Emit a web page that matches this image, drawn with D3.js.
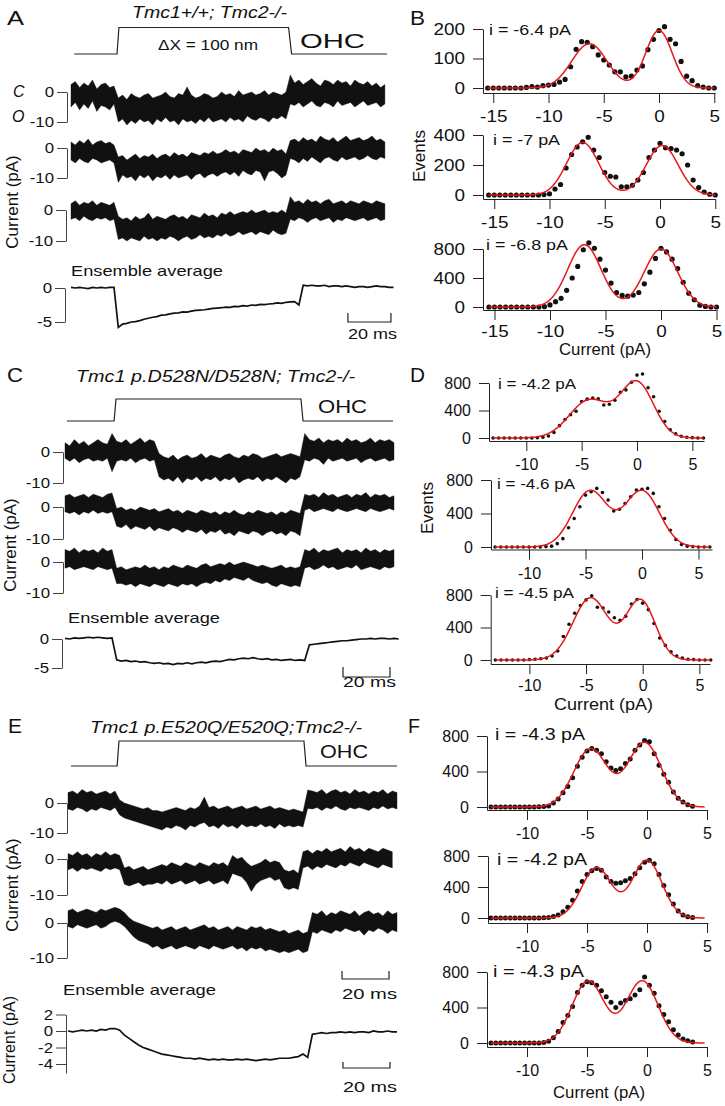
<!DOCTYPE html>
<html><head><meta charset="utf-8">
<script src="https://cdn.jsdelivr.net/npm/d3@7"></script>
<style>body{margin:0;background:#fff}svg{display:block}</style>
</head><body>
<script>
// ================= DATA =================
// stimulus (time in ms, level 0 = rest, 1 = displaced)
const stimT_A = [1.5, 21.4, 22.3, 101.2, 102.6, 147];
const stimT_C = [0.8, 20.9, 21.7, 100.4, 101.3, 139.6];
const stimT_E = [1.3, 20.9, 21.7, 100.4, 101.3, 140];
const stimLevel = [0, 0, 1, 1, 0, 0];
const sampleStep = 2; // ms between samples of every trace

// single-trace envelopes (pA), upper / lower excursions of the noisy trace
const A1_hi = [2.5,3.5,1.5,3,2,4,1,2.5,3,1.5,2, -2,-1,-2.5,-0.5,-1.5,-2,-1,-0.5,-2,-1.5,-1,0,-1.5,-2,-0.5,-1,1.7,-1,-2,-1.5,-0.5,-1,-2,-1.5,0,-1,-0.5,-1.5,0.5,-1,-0.5,0,-1,-0.5,0.5,-1,0,-0.5,-1,0, 5.7,3,4,2.5,3.5,4.5,3,2,4,3.5,2.5,4,3,3.5,2,4,3,2.5,3.5,2,3,1.5,2.5];
const A1_lo = [-5,-3.5,-6,-4,-5.5,-3,-6.5,-4.5,-5,-6,-4, -10,-9,-11,-9.5,-10.5,-9,-10,-9.5,-11,-9,-10,-8.5,-10,-9.5,-11,-9,-10,-9.5,-10.5,-9,-10,-8.5,-10,-9.5,-9,-10,-8.5,-9.5,-9,-10,-8,-9,-9.5,-8.5,-9,-10,-8.5,-9,-8,-9, -4,-4.5,-3.5,-5,-4,-3,-4.5,-5,-3.5,-4,-5,-3,-4.5,-4,-3.5,-5,-4,-3,-4.5,-4,-3.5,-5,-4];
const A2_hi = [2,1,2.5,1.5,3,1,2,2.5,1.5,2,1, -3,-2.5,-4,-3,-2,-3.5,-2.5,-3,-2,-3.5,-2.5,-2,-3,-1.5,-2.5,-2,-3,-1.5,-2,-2.5,-1.5,-2,-1,-2,-1.5,-0.5,-1.5,-1,-2,-0.5,-1,-1.5,0,-1,-0.5,-1.5,0,-1,-0.5,-2, 2.5,3,2,3.5,2.5,3,2,4,3,2.5,3.5,2,3,4,2.5,3,3.5,2.5,3,4,2.5,3,2];
const A2_lo = [-4,-5,-3.5,-4.5,-5,-3.5,-4,-5,-4.5,-4,-5, -11.5,-9,-10,-9.5,-11,-9,-10,-9,-11,-9.5,-10,-9,-10.5,-9,-10,-9.5,-9,-10.5,-9,-8.5,-10,-9,-8.5,-9.5,-8.5,-8,-9,-8,-9.5,-7.5,-8.5,-9,-7.5,-8,-11,-8,-7.5,-8.5,-10,-9, -3.5,-4,-5,-3.5,-4.5,-3,-4,-5,-3.5,-3,-4,-4.5,-3,-4,-3.5,-3,-4,-3.5,-2.5,-3.5,-4,-3,-3.5];
const A3_hi = [2,3,1.5,2.5,2,3,1.5,2.5,2,1.5,2.5, -2,-3,-2.5,-3.5,-2,-3,-2.5,-1,-3,-2,-2.5,-3,-2,-1.5,-2.5,-2,-3,-1.5,-2,-2.5,-1,-2,-1.5,-2.5,-1,-1.5,-0.5,-1.5,-1,-0.5,-1,0,-1,-0.5,0,-1,-0.5,-1,0,-1, 4.3,2.5,3,2,3.5,2.5,3,2,3,3.5,2,2.5,3,2,3,2.5,2,3,2.5,2,3,2.5,2];
const A3_lo = [-3,-2.5,-3.5,-2,-3,-3.5,-2.5,-3,-2.5,-3.5,-3, -9.5,-9,-10,-9,-9.5,-10,-8.5,-9.5,-9,-10,-9,-9.5,-8.5,-9,-10,-9,-8.5,-9.5,-9,-8,-9,-8.5,-9,-8,-8.5,-7.5,-8.5,-8,-7,-8,-7.5,-7,-8,-7,-7.5,-8,-6.5,-7.5,-8,-7.5, -3,-3.5,-2.5,-3,-4,-3,-2.5,-3.5,-3,-2.5,-4,-3,-3.5,-2.5,-3,-3.5,-3,-2.5,-3.5,-3,-2.5,-3.5,-3];
const A_avg = [0.1,0,0.1,0,-0.1,0.1,0,0.1,0,0.1,0.1, -5.8,-5.3, -5.2,-5.0,-4.95,-4.8,-4.6,-4.45,-4.3,-4.2,-4.0,-3.95,-3.8,-3.7,-3.65,-3.5,-3.55,-3.4,-3.3,-3.25,-3.2,-3.1,-3.0,-2.95,-2.9,-2.8,-2.85,-2.7,-2.75,-2.6,-2.65,-2.5,-2.55,-2.4,-2.45,-2.35,-2.3,-2.2,-2.25,-2.1,-2.05,-2.0, -2.5, 0.4,0.3,0.4,0.3,0.3,0.4,0.2,0.3,0.3,0.2,0.3,0.2,0.1,0.2,0.2,0.1,0.2,0.3,0.2,0.2,0.1,0.1];

const C1_hi = [3,2,4,2.5,3.5,2,3,4,3,2.5,6,3.5,3,4,2.5,3.5,4.5,3,4,3.5, -0.5,-1.5,-2,-1,-2.5,-1.5,-1,-2,-1.5,-0.5,-2,-1,-1.5,-2,-1,-0.5,-1.5,-2,-1,-1.5,-0.5,-1,-2,-1.5,-1,-0.5,-1.5,-1,-0.5,-1,-1.5, 6,4,3.5,4.5,3,4,3.5,4,3,4.5,3.5,4,3,3.5,4.5,3,4,3.5,4,3];
const C1_lo = [-2,-3,-2,-3.5,-2.5,-2,-3,-2.5,-3,-2,-6.4,-3,-2.5,-3,-2,-3.5,-2.5,-2,-3,-2.5, -8,-9,-8.5,-9.5,-8,-10,-8.5,-9,-8,-9.5,-8.5,-9,-8,-9.5,-8.5,-9,-8,-10,-9,-8.5,-9,-8,-9.5,-8.5,-9,-8,-9,-10,-8.5,-9,-8, -2.5,-3,-2,-2.5,-4,-2,-3,-2.5,-2,-3,-2.5,-2,-3.5,-2.5,-2,-3,-2.5,-2,-3,-2.5];
const C2_hi = [3.5,4,3,3.5,4,3,4,3.5,3,4,4.4, -0.5,0,-1,-0.5,-1,0,-0.5,-1,-0.5,-1.5,-1,-0.5,-1.5,-1,-2,-1,-1.5,-2,-1,-1.5,-2,-1.5,-2.5,-1.5,-2,-1,-2,-2.5,-1.5,-2,-1,-1.5,-2,-1.5,-2.5,-1.5,-2,-1,-1.5,-2, 4,3.5,4,3,4.5,3.5,4,3,3.5,4,3,4,3.5,4.5,3,4,3.5,4,3,3.5];
const C2_lo = [-1.5,-2,-1.5,-2.5,-1.5,-2,-1,-2,-1.5,-2,-1.5, -6,-6.5,-5.5,-7,-6,-6.5,-7,-6,-7.5,-6.5,-7,-7.5,-6.5,-7,-8,-7,-7.5,-8,-7,-8.5,-7.5,-8,-7,-8.5,-8,-9,-7.5,-8,-8.5,-7.5,-8,-9,-8,-7.5,-8.5,-8,-9,-7.5,-8,-9, -1,-0.5,-1.5,-1,-0.5,-1,-1.5,-0.5,-1,-1.5,-1,-0.5,-1,-1.5,-0.5,-1,-1.5,-1,-0.5,-1];
const C3_hi = [4,3.5,4.5,3,4,3.5,4,3,4.5,3.5,4, -2,-1.5,-2.5,-2,-1.5,-2,-1,-2,-1.5,-2.5,-1.5,-2,-1,-1.5,-2,-1,-1.5,-2,-1,-0.5,-1.5,-1,-0.5,-1,0,-1,-0.5,0,-0.5,-1,-1.5,-1,-1.5,-2,-1.5,-1,-2,-1.5,-2,-1.5, 4,3.5,4.5,3,4,3.5,4,4.5,3,4,3.5,4,3,4.5,3.5,4,3,4,3.5,4];
const C3_lo = [-2,-1.5,-2.5,-2,-1.5,-2,-2.5,-1.5,-2,-2.5,-2, -7,-6.9,-7.5,-7,-8,-7,-7.5,-8,-7,-7.5,-8,-7,-7.5,-8,-7,-7.5,-7,-8,-7,-6.5,-7,-6,-6.5,-5.5,-6,-5,-5.5,-6,-5,-6,-6.5,-7,-6.5,-7.5,-8,-7,-7.5,-8,-7.5,-8, -2,-1.5,-2.5,-2,-1,-2,-1.5,-2.5,-2,-1.5,-2,-1,-2.5,-2,-1.5,-2,-2.5,-1.5,-2,-1.5];
const C_avg = [0.1,0,0.2,0.1,0.2,0.3,0.2,0.3,0.2,0.1,0.2, -3.6,-3.8,-3.7,-3.9,-3.8,-4.0,-3.9,-4.1,-4.2,-4.1,-4.3,-4.2,-4.4,-4.2,-4.3,-4.1,-4.3,-4.1,-4.0,-4.1,-3.9,-3.8,-3.9,-3.7,-3.5,-3.6,-3.4,-3.3,-3.4,-3.2,-3.4,-3.5,-3.4,-3.6,-3.5,-3.7,-3.6,-3.5,-3.7,-3.6,-3.7, -1.0,-0.9,-0.8,-0.7,-0.6,-0.5,-0.4,-0.3,-0.3,-0.2,-0.1,0,0,0.1,0,0.1,0.1,0,0.1,0];

const E1_hi = [3.5,4,3,4.5,3.5,4,3,3.5,4,3,4, 1,0,-0.5,-1,-1.5,-2,-1.5,-2.5,-2.5,-3,-2.5,-2,-1.5,-2,-2.5,-1.5,-2,-1,2,-1.5,-1,-2,-1.5,-1,-2,-1.5,-1,-2,-1.5,-1,-2,-1.5,-1,-2,-1.5,-2,-2.5,-2,-2.5,-3, 4.3,4,3.5,4.5,3,4,4.5,3.5,4,3,4.5,3.5,4,3,4,3.5,4.5,3,4,3.5];
const E1_lo = [-2,-2.5,-1.5,-2,-3,-2,-2.5,-1.5,-2,-2.5,-1.5, -4,-5,-5.5,-6,-6.5,-7,-7.5,-8,-8.5,-9,-8,-8.5,-7.5,-8,-9,-7.5,-8,-7,-6.5,-8,-7.5,-8.5,-7,-8,-7.5,-8.5,-7,-8,-7.5,-8,-7,-8,-7.5,-8.5,-7,-8,-7.5,-8,-7.5,-8, -1.8,-2,-1.5,-2.5,-1.5,-2,-1,-2,-2.5,-1.5,-2,-1.5,-2,-2.5,-1.5,-2,-1,-2,-1.5,-2];
const E2_hi = [1.5,1,2,1,1.5,0.5,1.5,1,2,1,1.5,1, -2.5,-2,-3,-2.5,-2,-3,-2.5,-2,-1.5,-2,-1,-1.5,-2,-1,-1.5,-2,-1,-1.5,-2,-1,-1.5,-1,-2,1,0,0.5,-1,-2,-1.5,-1,0,-1,-0.5,-1,-3,-3.5,-3,-4, 2,2.5,1.5,2.5,2,3,2,2.5,3,2,3.5,2.5,3,2,3,2.5,2,3,2.5,2];
const E2_lo = [-3,-2.5,-3.5,-2.5,-3,-2.5,-3,-3.5,-2.5,-3,-2.5,-3, -7,-7.5,-7,-6.5,-7.5,-7,-7,-6.5,-7,-6,-7,-6.5,-6,-7,-6.5,-6,-7,-6.5,-6,-7,-6.5,-6,-7,-4,-4.5,-5,-6.5,-9,-7,-6,-5.5,-5,-6,-5.5,-8,-8.5,-8,-8.5, -2.5,-2,-3,-2,-2.5,-1.5,-2,-2.5,-1.5,-2,-1,-1.5,-2,-1,-1.5,-2,-2.5,-1.5,-2,-2.5];
const E3_hi = [3.5,4,3,3.5,4,3.5,3,4,3.5,4,4.5,4, 3,1.5,0.5,0,-0.5,-1,-1.5,-1,-2,-1.5,-1,-2,-1.5,-1,-2,-1.5,-1,-0.5,-1.5,-1,-2,-1.5,-1,-2,-1,-1.5,-2,-1,-1.5,-1,-2,-1.5,-2,-2.5,-2,-3,-2.5,-2,-3,-2.5, 3,2.5,3.5,2,3,2.5,3.5,3,2.5,3.5,2,3,3.5,2.5,3,2,3.5,2.5,3];
const E3_lo = [-1,-1.5,-0.5,-1,-1.5,-1,-0.5,-1.5,-1,0,0.5,0, -1,-2.5,-4,-5,-5.5,-6,-7,-6.5,-7.5,-7,-6.5,-7.5,-7,-6.5,-7,-7.5,-6.5,-7,-7.5,-6.5,-7,-7.5,-7,-6.5,-7.5,-7,-8,-7,-7.5,-7,-8,-7.5,-8,-8.5,-8,-8.5,-8,-7.5,-8.5,-8, -2.5,-3,-2,-2.5,-3,-2,-2.5,-1.5,-2,-2.5,-2,-3.5,-2,-2.5,-1.5,-2,-3,-2,-2.5];
const E_avg = [0,-0.1,0,0.1,0,0.1,0,0.2,0.1,0.3,0.3, 0.1,-0.5,-0.9,-1.3,-1.7,-2.0,-2.2,-2.4,-2.6,-2.8,-2.9,-3.0,-3.1,-3.2,-3.3, -3.3,-3.4,-3.3,-3.4,-3.5,-3.4,-3.5,-3.4,-3.5,-3.5,-3.4,-3.5,-3.4,-3.5,-3.6,-3.5,-3.4,-3.5,-3.4,-3.3, -3.3,-3.3,-3.2,-3.1,-2.8,-3.2, -0.4, -0.3,-0.2,-0.3,-0.2,-0.2,-0.1,-0.2,-0.1,-0.2,-0.1,-0.1,-0.2,0,-0.1,-0.1,0,-0.1,-0.1];

// amplitude histograms (events per bin)
const B_binStart = -15.5, B_binStep = 0.5;
const D_binStart = -13,   D_binStep = 0.5;
const F_binStart = -13,   F_binStep = 0.4;
const B1_counts = [0,0,0,0,0,0,0,2,5,3,8,10,12,20,29,72,131,157,155,140,112,95,78,55,55,38,40,61,75,130,165,195,208,165,150,90,40,25,8,3,0,0];
const B2_counts = [0,0,0,0,0,0,0,0,0,0,3,8,40,70,180,270,320,355,385,300,250,150,125,120,55,55,65,100,150,250,300,345,315,310,300,275,200,100,50,20,5,0];
const B3_counts = [0,0,0,0,0,0,0,0,0,0,5,28,73,120,230,400,560,790,885,810,660,510,330,200,160,150,165,200,320,480,670,810,760,660,530,340,190,100,25,8,0,0];
const D1_counts = [0,0,0,0,0,0,0,0,5,10,30,80,180,270,340,390,530,565,580,570,480,490,550,665,700,810,915,930,730,600,390,240,120,60,25,10,5,0,0];
const D2_counts = [0,0,0,0,0,0,0,0,0,5,10,40,100,230,340,480,620,660,700,650,560,430,450,520,600,680,690,700,640,480,340,200,90,30,10,5,0,0,0];
const D3_counts = [0,0,0,0,0,0,5,10,15,25,50,110,290,440,575,670,740,790,650,640,590,520,490,540,690,745,700,620,450,270,180,100,50,25,10,5,0,0,0];
const F1_counts = [0,0,0,0,0,0,0,0,0,0,2,5,10,45,90,160,230,330,460,560,630,660,640,600,510,440,410,430,490,540,640,700,750,735,600,470,370,280,170,100,55,25,8];
const F2_counts = [0,0,0,0,0,0,0,0,0,0,0,3,8,20,40,80,140,230,350,470,560,610,640,615,530,470,450,455,480,510,570,650,720,745,700,560,420,300,180,90,40,15,5];
const F3_counts = [0,0,0,0,0,0,0,0,0,0,0,5,20,60,130,230,310,410,570,650,690,680,650,590,520,460,400,450,480,500,540,600,745,650,560,420,320,240,150,90,45,25,12];
// two-Gaussian fits: [amp1, mean1, sd1, amp2, mean2, sd2]
const B1_fit = [150,-6.3,1.6,195,0,1.2];
const B2_fit = [350,-7,1.45,330,0.2,1.45];
const B3_fit = [860,-6.9,1.5,800,0,1.5];
const D1_fit = [550,-4.3,1.8,800,0,1.5];
const D2_fit = [670,-4.6,1.55,670,0,1.55];
const D3_fit = [765,-4.6,1.55,735,-0.2,1.3];
const F1_fit = [655,-4.7,1.4,725,-0.2,1.4];
const F2_fit = [650,-4.2,1.25,745,0,1.25];
const F3_fit = [700,-4.9,1.33,700,-0.4,1.33];
const histLabels = ["i = -6.4 pA","i = -7 pA","i = -6.8 pA","i = -4.2 pA","i = -4.6 pA","i = -4.5 pA","i = -4.3 pA","i = -4.2 pA","i = -4.3 pA"];

// ================= DRAWING =================
const FONT = "'Liberation Sans', Arial, Helvetica, sans-serif";
const svg = d3.select("body").append("svg").attr("width",725).attr("height",1106);

function txt(s, x, y, o = {}) {
  const t = svg.append("text").attr("x", x).attr("y", y).text(s)
    .attr("font-family", FONT).attr("font-size", o.size || 15).attr("fill", "#111");
  if (o.italic) t.attr("font-style", "italic");
  if (o.anchor) t.attr("text-anchor", o.anchor);
  if (o.w) t.attr("textLength", o.w).attr("lengthAdjust", "spacingAndGlyphs");
  if (o.rot) t.attr("transform", `rotate(-90,${x},${y})`);
  return t;
}
function stretchTexts(sel, f) {
  sel.selectAll("text").each(function(){ this.setAttribute("textLength", this.getComputedTextLength()*f); this.setAttribute("lengthAdjust","spacingAndGlyphs"); });
}

const xA = d3.scaleLinear().domain([0,150]).range([71, 393.5]);
const xC = d3.scaleLinear().domain([0,140]).range([65, 394]);
const xE = d3.scaleLinear().domain([0,140]).range([68, 397]);

function stimulus(x, base, top, T) {
  const y = d3.scaleLinear().domain([0,1]).range([base, top]);
  svg.append("path").attr("d", d3.line().x((d,i)=>x(T[i])).y(d=>y(d))(stimLevel))
    .attr("fill","none").attr("stroke","#222").attr("stroke-width",1.2);
}
function yLin(zeroPx, refVal, refPx, dmin, dmax) {
  const ppu = (refPx - zeroPx) / refVal;
  return d3.scaleLinear().domain([dmin, dmax]).range([zeroPx + dmin*ppu, zeroPx + dmax*ppu]);
}
function traceAxis(ax, y, ticks) {
  const g = svg.append("g").attr("transform", `translate(${ax},0)`)
    .call(d3.axisLeft(y).tickValues(ticks).tickSize(10).tickSizeOuter(0).tickPadding(3).tickFormat(d=>String(d)));
  g.attr("font-size", 15).attr("font-family", FONT);
  g.selectAll("path,line").attr("stroke", "#444");
  g.selectAll("text").attr("fill", "#111");
  stretchTexts(g, 1.12);
}
// noisy trace drawn as the band between its upper and lower excursions
function band(x, y, hi, lo) {
  const area = d3.area().x((d,i)=>x(i*sampleStep)).y0((d,i)=>y(lo[i])).y1((d,i)=>y(hi[i]));
  svg.append("path").attr("d", area(hi)).attr("fill","#111").attr("stroke","#111").attr("stroke-width",0.4);
}
function avgLine(x, y, v) {
  svg.append("path").attr("d", d3.line().x((d,i)=>x(i*sampleStep)).y(d=>y(d))(v))
    .attr("fill","none").attr("stroke","#111").attr("stroke-width",1.7);
}
function noisyTrace(x, ax, zeroPx, tenPx, hi, lo) {
  const y = yLin(zeroPx, -10, tenPx, -10, 0);
  band(x, y, hi, lo);
  traceAxis(ax, y, [0,-10]);
}
function scaleBar(x, t0, yBar, yTop) {
  svg.append("path").attr("d", `M${x(t0)},${yTop}V${yBar}H${x(t0+20)}V${yTop}`)
    .attr("fill","none").attr("stroke","#222").attr("stroke-width",1.2);
}

// ---------- Panel A ----------
txt("A", 7, 25, {size:21, w:17});
txt("Tmc1+/+; Tmc2-/-", 132, 18, {size:16, italic:true, w:155});
stimulus(xA, 54, 27.5, stimT_A);
txt("ΔX = 100 nm", 158, 50, {size:14, w:100});
txt("OHC", 300, 48, {size:21, w:65});
txt("C", 13, 97, {size:16, italic:true});
txt("O", 12, 122, {size:16, italic:true});
noisyTrace(xA, 67, 92, 122, A1_hi, A1_lo);
noisyTrace(xA, 67, 148, 178, A2_hi, A2_lo);
noisyTrace(xA, 66, 210, 241, A3_hi, A3_lo);
txt("Current (pA)", 18, 202, {size:17, anchor:"middle", rot:true});
txt("Ensemble average", 71, 276, {size:15, w:152});
{ const y = yLin(288, -5, 322, -5, 0); avgLine(xA, y, A_avg); traceAxis(65, y, [0,-5]); }
scaleBar(xA, 128.8, 322, 313);
txt("20 ms", 348, 339, {size:15, w:49});

// ---------- Panel C ----------
txt("C", 7, 382, {size:21, w:16});
txt("Tmc1 p.D528N/D528N; Tmc2-/-", 76, 382, {size:16, italic:true, w:279});
stimulus(xC, 421, 399, stimT_C);
txt("OHC", 318, 413, {size:18.5, w:49});
noisyTrace(xC, 63, 452, 483, C1_hi, C1_lo);
noisyTrace(xC, 63, 507, 539, C2_hi, C2_lo);
noisyTrace(xC, 63, 562, 593, C3_hi, C3_lo);
txt("Current (pA)", 16, 545, {size:17, anchor:"middle", rot:true});
txt("Ensemble average", 68, 623, {size:15, w:152});
{ const y = yLin(639, -5, 668, -5, 0); avgLine(xC, y, C_avg); traceAxis(62, y, [0,-5]); }
scaleBar(xC, 118.3, 677, 667);
txt("20 ms", 343, 687, {size:15, w:53});

// ---------- Panel E ----------
txt("E", 8, 733, {size:21, w:14});
txt("Tmc1 p.E520Q/E520Q;Tmc2-/-", 90, 733, {size:16, italic:true, w:272});
stimulus(xE, 766, 741, stimT_E);
txt("OHC", 320, 758, {size:18.5, w:48});
noisyTrace(xE, 67, 803, 833, E1_hi, E1_lo);
noisyTrace(xE, 67, 859, 895, E2_hi, E2_lo);
noisyTrace(xE, 67, 923, 958, E3_hi, E3_lo);
txt("Current (pA)", 18, 885, {size:17, anchor:"middle", rot:true});
scaleBar(xE, 116.6, 979, 971);
txt("20 ms", 342, 999, {size:15, w:55});
txt("Ensemble average", 63, 995, {size:15, w:153});
{ const y = yLin(1031, -4, 1064, -5.1, 2); avgLine(xE, y, E_avg); traceAxis(66, y, [2,0,-2,-4]); }
txt("Current (pA)", 15, 1040, {size:16, anchor:"middle", rot:true});
scaleBar(xE, 117, 1068, 1062);
txt("20 ms", 343, 1092, {size:15, w:54});

// ---------- Histograms ----------
function hist(o) {
  const x = d3.scaleLinear().domain([(o.axisX-o.zeroX)/o.ppx, (o.rightX-o.zeroX)/o.ppx]).range([o.axisX, o.rightX]);
  const y = yLin(o.zeroY, o.yMax, o.topY, (o.zeroY-o.axisY)/((o.zeroY-o.topY)/o.yMax), o.yMax);
  const gl = svg.append("g").attr("transform", `translate(${o.axisX},0)`)
    .call(d3.axisLeft(y).tickValues(o.yTicks).tickSize(10).tickPadding(8).tickSizeOuter(0).tickFormat(d=>String(d)));
  const gb = svg.append("g").attr("transform", `translate(0,${o.axisY})`)
    .call(d3.axisBottom(x).tickValues(o.xTicks).tickSize(10).tickPadding(o.xpad || 8).tickSizeOuter(0).tickFormat(d=>String(d)));
  [gl, gb].forEach(g => { g.attr("font-size", 16).attr("font-family", FONT);
    g.selectAll("path,line").attr("stroke","#222"); g.selectAll("text").attr("fill","#111"); stretchTexts(g, o.stretch); });
  svg.append("g").selectAll("circle").data(o.counts).join("circle")
    .attr("cx", (d,i)=>x(o.start + i*o.step)).attr("cy", d=>y(d)).attr("r", o.r).attr("fill","#111");
  const p = o.fit, xs = d3.range(o.fitRange[0], o.fitRange[1] + 1e-9, 0.05);
  const g2 = v => p[0]*Math.exp(-((v-p[1])**2)/(2*p[2]*p[2])) + p[3]*Math.exp(-((v-p[4])**2)/(2*p[5]*p[5]));
  svg.append("path").attr("d", d3.line().x(v=>x(v)).y(v=>y(g2(v)))(xs))
    .attr("fill","none").attr("stroke","#e8161b").attr("stroke-width",1.5);
  txt(o.label, o.lx, o.ly, {size:o.lsize||15, w:o.lw});
}
const Bx = [-15,-10,-5,0,5], Dx = [-10,-5,0,5];
hist({counts:B1_counts, start:B_binStart, step:B_binStep, fit:B1_fit, fitRange:[-15.5,5], axisX:483, zeroX:659, ppx:11.05, rightX:715,
  zeroY:88, topY:29, yMax:200, axisY:93, yTicks:[0,100,200], xTicks:Bx, r:2.6, stretch:1.18, label:histLabels[0], lx:489, ly:35, lw:82});
hist({counts:B2_counts, start:B_binStart, step:B_binStep, fit:B2_fit, fitRange:[-15.5,5], axisX:483, zeroX:660, ppx:11.05, rightX:715,
  zeroY:195, topY:135, yMax:400, axisY:199, yTicks:[0,200,400], xTicks:Bx, r:2.6, stretch:1.18, label:histLabels[1], lx:493, ly:145, lw:67});
hist({counts:B3_counts, start:B_binStart, step:B_binStep, fit:B3_fit, fitRange:[-15.5,5], axisX:483, zeroX:661, ppx:11.1, rightX:716,
  zeroY:307, topY:249, yMax:800, axisY:310, yTicks:[0,400,800], xTicks:Bx, r:2.6, stretch:1.18, xpad:6, label:histLabels[2], lx:486, ly:250, lw:82});
txt("B", 410, 25, {size:21, w:15});
txt("Events", 425, 156, {size:17, anchor:"middle", rot:true});
txt("Current (pA)", 605, 355, {size:16, anchor:"middle", w:92});

hist({counts:D1_counts, start:D_binStart, step:D_binStep, fit:D1_fit, fitRange:[-13,6], axisX:489, zeroX:637, ppx:11.07, rightX:704,
  zeroY:438, topY:383, yMax:800, axisY:441, yTicks:[0,400,800], xTicks:Dx, r:1.8, stretch:1.0, label:histLabels[3], lx:498, ly:389, lw:78});
hist({counts:D2_counts, start:D_binStart, step:D_binStep, fit:D2_fit, fitRange:[-13,6], axisX:491, zeroX:642, ppx:11.3, rightX:712,
  zeroY:547, topY:480, yMax:800, axisY:549.5, yTicks:[0,400,800], xTicks:Dx, r:1.8, stretch:1.0, label:histLabels[4], lx:497, ly:489, lw:78});
hist({counts:D3_counts, start:D_binStart, step:D_binStep, fit:D3_fit, fitRange:[-13,6], axisX:490.7, zeroX:642.7, ppx:11.33, rightX:710,
  zeroY:660, topY:595, yMax:800, axisY:664, yTicks:[0,400,800], xTicks:Dx, r:1.8, stretch:1.0, xpad:6, label:histLabels[5], lx:495, ly:598, lw:79});
txt("D", 410, 382, {size:21, w:15});
txt("Events", 433, 508, {size:17, anchor:"middle", rot:true});
txt("Current (pA)", 554, 710, {size:16, w:99});

hist({counts:F1_counts, start:F_binStart, step:F_binStep, fit:F1_fit, fitRange:[-13,4.8], axisX:487, zeroX:647, ppx:12, rightX:707,
  zeroY:807, topY:736, yMax:800, axisY:810, yTicks:[0,400,800], xTicks:Dx, r:2.5, stretch:1.0, label:histLabels[6], lx:495, ly:740, lw:90, lsize:16});
hist({counts:F2_counts, start:F_binStart, step:F_binStep, fit:F2_fit, fitRange:[-13,4.8], axisX:488, zeroX:647, ppx:12, rightX:708,
  zeroY:918, topY:856, yMax:800, axisY:923, yTicks:[0,400,800], xTicks:Dx, r:2.5, stretch:1.0, label:histLabels[7], lx:497, ly:865, lw:90, lsize:16});
hist({counts:F3_counts, start:F_binStart, step:F_binStep, fit:F3_fit, fitRange:[-13,4.8], axisX:487, zeroX:647, ppx:12, rightX:707,
  zeroY:1043, topY:972, yMax:800, axisY:1047, yTicks:[0,400,800], xTicks:Dx, r:2.5, stretch:1.0, label:histLabels[8], lx:493, ly:977, lw:91, lsize:16});
txt("F", 408, 733, {size:21, w:12});
txt("Current (pA)", 553, 1098, {size:16, w:92});
</script>
</body></html>
